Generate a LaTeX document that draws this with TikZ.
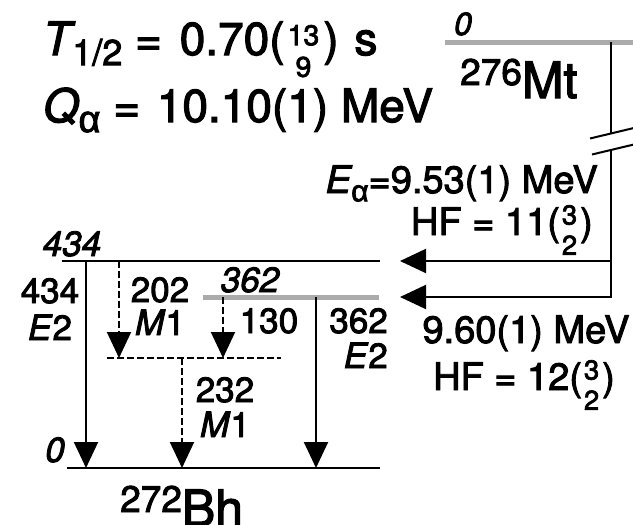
\documentclass[tikz,border=0pt]{standalone}
\usepackage{fontspec}
\setmainfont{TeX Gyre Heros}[FakeBold=2.5]
\newfontfamily\grk{Liberation Sans}[FakeBold=2.5]
\usetikzlibrary{arrows.meta}
\makeatletter
\newcommand\stk[3][62]{{\edef\stksz{\strip@pt\dimexpr\f@size pt*#1/100\relax}%
\raisebox{-0.14em}{\fontsize{\stksz}{\stksz}\selectfont\begin{tabular}{@{}c@{}}#2\\[0.1em]#3\end{tabular}}}}
\makeatother
\newcommand\sub[2]{\raisebox{-0.22em}{\fontsize{#1}{#1}\selectfont #2}}
\begin{document}
\begin{tikzpicture}[x=1pt,y=-1pt,
  lvl/.style={line width=2pt},
  glvl/.style={line width=5pt, draw=black!33},
  tip/.style={-{Triangle[length=26pt,width=24pt]}},
  gam/.style={line width=2pt, tip},
  dgam/.style={gam, dash pattern=on 6.5pt off 3.5pt},
  feed/.style={line width=2pt, tip},
  txt/.style={inner sep=0pt, font=\fontsize{35}{35}\selectfont},
  rtxt/.style={inner sep=0pt, font=\fontsize{38}{38}\selectfont},
  gtxt/.style={txt, align=center},
  ttl/.style={inner sep=0pt, anchor=base west, font=\fontsize{46}{46}\selectfont}]
\useasboundingbox (0,0) rectangle (633,525);

% title
\node[ttl] (thalf) at (43,55) {\textit{T}\kern-3pt\sub{36}{1/2} = \hspace{5pt}0.70(\hspace{3pt}\stk{13}{9}\hspace{4pt}) \hspace{3pt}s};
\node[ttl] (qa) at (43,122) {\textit{Q}\kern-0.5pt\sub{38}{\grk α} = \hspace{4pt}10.10(1) MeV};

% parent level
\coordinate (mtL) at (445,42);
\coordinate (mtR) at (633,42);
\draw[glvl] (mtL) -- (mtR);
\node[txt, anchor=base, font=\fontsize{32}{32}\selectfont\itshape] (mt0) at (463,35) {0};
\node[inner sep=0pt, anchor=base west, font=\fontsize{50}{50}\selectfont] (mt) at (460,98)
  {\raisebox{13pt}{\fontsize{37}{37}\selectfont 276}Mt};

% vertical feeding line with break
\coordinate (v0) at (611,42);
\coordinate (vb1) at (611,133.5);
\coordinate (vb2) at (611,150);
\coordinate (a434) at (611,261);
\coordinate (a362) at (611,297);
\coordinate (t434) at (400,261);
\coordinate (t362) at (400,297);
\coordinate (bk1a) at (590,138.5);
\coordinate (bk1b) at (633,128.2);
\coordinate (bk2a) at (592,154.5);
\coordinate (bk2b) at (633,144.7);
\draw[lvl] (v0) -- (vb1);
\draw[lvl] (bk1a) -- (bk1b);
\draw[lvl] (bk2a) -- (bk2b);
\draw[feed] (vb2) -- (a362) -- (t362);
\draw[feed] (a434) -- (t434);

\node[rtxt, anchor=base east] (ea1) at (598,193) {\textit{E}\kern-1pt\sub{30}{\grk α}=9.53(1) MeV};
\node[rtxt, anchor=base east] (hf1) at (593,235) {HF = 11(\hspace{2pt}\stk[72]{3}{2}\hspace{3pt})};
\node[rtxt, anchor=base] (ea2) at (526,343) {9.60(1) MeV};
\node[rtxt, anchor=base] (hf2) at (524,390) {HF = 12(\hspace{2pt}\stk[72]{3}{2}\hspace{3pt})};

% daughter levels
\coordinate (l434L) at (62,261);
\coordinate (l434R) at (380,261);
\coordinate (l362L) at (203,297);
\coordinate (l362R) at (379,297);
\coordinate (gL) at (67,468);
\coordinate (gR) at (380,468);
\coordinate (mL) at (107,358);
\coordinate (mR) at (281,358);
\draw[lvl] (l434L) -- (l434R);
\draw[glvl] (l362L) -- (l362R);
\draw[lvl] (gL) -- (gR);
\draw[lvl, dash pattern=on 6.5pt off 3.5pt] (mL) -- (mR);

\node[txt, anchor=base, font=\fontsize{35}{35}\selectfont\itshape] (n434) at (72,256) {434};
\node[txt, anchor=base, font=\fontsize{35}{35}\selectfont\itshape] (n362) at (250,292) {362};
\node[txt, anchor=base, font=\fontsize{35}{35}\selectfont\itshape] (n0) at (55,462) {0};

% gamma transitions
\coordinate (g1s) at (86,261);  \coordinate (g1e) at (86,468);
\coordinate (g2s) at (119,261); \coordinate (g2e) at (119,358);
\coordinate (g3s) at (223,297); \coordinate (g3e) at (223,358);
\coordinate (g4s) at (182,358); \coordinate (g4e) at (182,468);
\coordinate (g5s) at (316,297); \coordinate (g5e) at (316,468);
\draw[gam] (g1s) -- (g1e);
\draw[dgam] (g2s) -- (g2e);
\draw[dgam] (g3s) -- (g3e);
\draw[dgam] (g4s) -- (g4e);
\draw[gam] (g5s) -- (g5e);

\node[gtxt, anchor=base, font=\fontsize{35}{37}\selectfont] (gl1) at (50,340) {434\\\textit{E}2};
\node[gtxt, anchor=base, font=\fontsize{35}{33}\selectfont] (gl2) at (160,335) {202\\\textit{M}1};
\node[txt, anchor=base] (gl3) at (269,333) {130};
\node[gtxt, align=right, anchor=base east] (gl5) at (388,368) {362\\\textit{E}2};
\node[gtxt, anchor=base] (gl4) at (225,437) {232\\\textit{M}1};

\node[inner sep=0pt, anchor=base west, font=\fontsize{50}{50}\selectfont] (bh) at (120,526)
  {\raisebox{14pt}{\fontsize{37}{37}\selectfont 272}Bh};
\end{tikzpicture}
\end{document}
